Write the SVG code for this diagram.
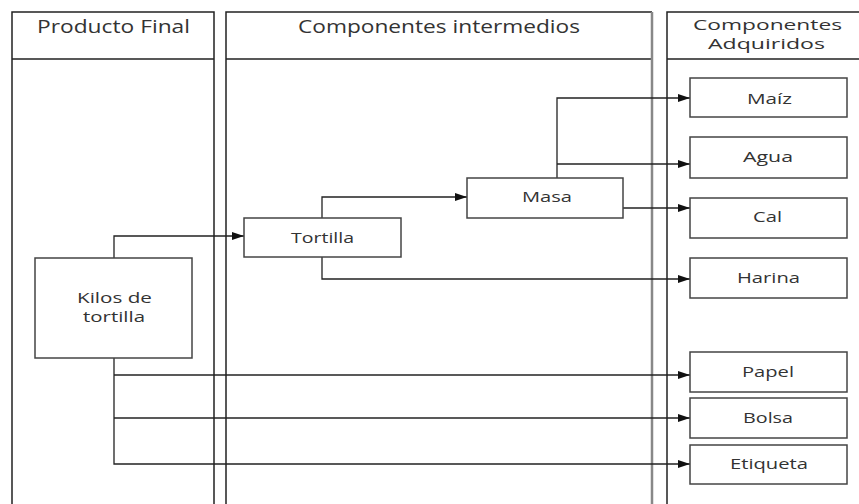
<svg xmlns="http://www.w3.org/2000/svg" width="859" height="504" viewBox="0 0 859 504">
<style>
.lane{fill:none;stroke:#222;stroke-width:1.5}
.box{fill:#fff;stroke:#444;stroke-width:1.5}
.hdr{font-family:"Open Sans","Noto Sans",sans-serif;font-size:18px;fill:#333}
.hdr2{font-family:"Open Sans","Noto Sans",sans-serif;font-size:14px;fill:#333}
.lbl{font-family:"Open Sans","Noto Sans",sans-serif;font-size:15px;fill:#333}
.lbl2{font-family:"Open Sans","Noto Sans",sans-serif;font-size:14px;fill:#333}
.con{fill:none;stroke:#222;stroke-width:1.3}
</style>
<defs>
<marker id="arr" viewBox="0 0 12 8" refX="12" refY="4" markerWidth="12" markerHeight="8" markerUnits="userSpaceOnUse" orient="auto">
<path d="M0,0 L12,4 L0,8 z" fill="#111"/>
</marker>
</defs>
<rect width="859" height="504" fill="#fff"/>
<g id="lane-producto-final">
<path class="lane" d="M12,504 V12 H214 V504 M12,59 H214"/>
<text class="hdr" x="37" y="33" textLength="153" lengthAdjust="spacingAndGlyphs">Producto Final</text>
</g>
<g id="lane-componentes-intermedios">
<path class="lane" d="M226,504 V12 H652 M226,59 H652"/>
<path d="M652,12 V504" stroke="#888" stroke-width="2.5" fill="none"/>
<text class="hdr" x="298" y="33" textLength="282" lengthAdjust="spacingAndGlyphs">Componentes intermedios</text>
</g>
<g id="lane-componentes-adquiridos">
<path class="lane" d="M667,504 V12 H859 M667,59 H859"/>
<text class="hdr2" x="693" y="30" textLength="149" lengthAdjust="spacingAndGlyphs">Componentes</text>
<text class="hdr2" x="708" y="49" textLength="117" lengthAdjust="spacingAndGlyphs">Adquiridos</text>
</g>
<g id="connectors">
<path class="con" d="M114,258 V236 H244" marker-end="url(#arr)"/>
<path class="con" d="M322,218 V197 H467" marker-end="url(#arr)"/>
<path class="con" d="M322,257 V279 H690" marker-end="url(#arr)"/>
<path class="con" d="M557,178 V98 H690" marker-end="url(#arr)"/>
<path class="con" d="M557,164 H690" marker-end="url(#arr)"/>
<path class="con" d="M623,208 H690" marker-end="url(#arr)"/>
<path class="con" d="M114,358 V464 H690" marker-end="url(#arr)"/>
<path class="con" d="M114,375 H690" marker-end="url(#arr)"/>
<path class="con" d="M114,418 H690" marker-end="url(#arr)"/>
</g>
<g id="node-kilos">
<rect class="box" x="35" y="258" width="157" height="100"/>
<text class="lbl2" x="77" y="303" textLength="75" lengthAdjust="spacingAndGlyphs">Kilos de</text>
<text class="lbl2" x="83" y="322" textLength="62" lengthAdjust="spacingAndGlyphs">tortilla</text>
</g>
<g id="node-tortilla">
<rect class="box" x="244" y="218" width="157" height="39"/>
<text class="lbl" x="291" y="243" textLength="63" lengthAdjust="spacingAndGlyphs">Tortilla</text>
</g>
<g id="node-masa">
<rect class="box" x="467" y="178" width="156" height="40"/>
<text class="lbl" x="522" y="202" textLength="50" lengthAdjust="spacingAndGlyphs">Masa</text>
</g>
<g id="node-maiz">
<rect class="box" x="690" y="78" width="157" height="39"/>
<text class="lbl" x="747" y="104" textLength="45" lengthAdjust="spacingAndGlyphs">Maíz</text>
</g>
<g id="node-agua">
<rect class="box" x="690" y="137" width="157" height="41"/>
<text class="lbl" x="743" y="162" textLength="50" lengthAdjust="spacingAndGlyphs">Agua</text>
</g>
<g id="node-cal">
<rect class="box" x="690" y="198" width="157" height="40"/>
<text class="lbl" x="753" y="222" textLength="29" lengthAdjust="spacingAndGlyphs">Cal</text>
</g>
<g id="node-harina">
<rect class="box" x="690" y="258" width="157" height="40"/>
<text class="lbl" x="737" y="283" textLength="63" lengthAdjust="spacingAndGlyphs">Harina</text>
</g>
<g id="node-papel">
<rect class="box" x="690" y="352" width="157" height="40"/>
<text class="lbl" x="742" y="377" textLength="52" lengthAdjust="spacingAndGlyphs">Papel</text>
</g>
<g id="node-bolsa">
<rect class="box" x="690" y="398" width="157" height="40"/>
<text class="lbl" x="743" y="423" textLength="50" lengthAdjust="spacingAndGlyphs">Bolsa</text>
</g>
<g id="node-etiqueta">
<rect class="box" x="690" y="445" width="157" height="39"/>
<text class="lbl" x="730" y="469" textLength="78" lengthAdjust="spacingAndGlyphs">Etiqueta</text>
</g>
</svg>
